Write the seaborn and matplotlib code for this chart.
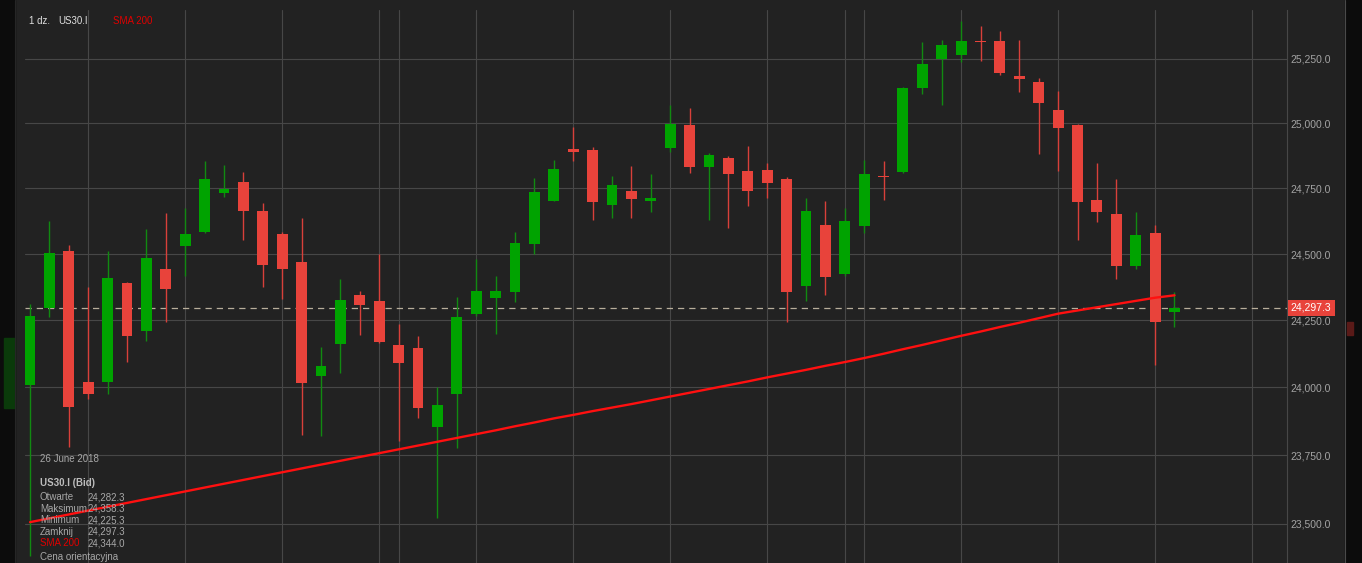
import numpy as np
import pandas as pd
import seaborn as sns
import matplotlib.pyplot as plt
from matplotlib.patches import Rectangle
from matplotlib.ticker import FixedLocator, FuncFormatter, NullLocator
import matplotlib.transforms as mtransforms

# daily candles US30.I, 4 April 2018 - 26 June 2018
opens = [24010, 24295, 24511, 24020, 24021, 24391, 24209, 24443, 24531, 24584,
         24734, 24774, 24665, 24575, 24470, 24042, 24162, 24346, 24324, 24159,
         24147, 23855, 23975, 24275, 24335, 24355, 24539, 24703, 24901, 24897,
         24685, 24740, 24703, 24905, 24995, 24833, 24866, 24816, 24820, 24786,
         24380, 24610, 24424, 24607, 24797, 24814, 25138, 25250, 25267, 25319,
         25319, 25183, 25160, 25051, 24993, 24705, 24652, 24455, 24578, 24282.3]
highs = [24313, 24625, 24536, 24377, 24511, 24396, 24594, 24657, 24676, 24856,
         24840, 24811, 24695, 24582, 24635, 24151, 24406, 24361, 24500, 24237,
         24192, 24001, 24339, 24481, 24417, 24585, 24791, 24860, 24984, 24909,
         24796, 24834, 24804, 25070, 25059, 24884, 24874, 24913, 24847, 24793,
         24713, 24700, 24675, 24858, 24855, 25142, 25318, 25323, 25399, 25380,
         25361, 25323, 25174, 25127, 24999, 24846, 24784, 24661, 24610, 24358.3]
lows = [23383, 24261, 23781, 23957, 23975, 24096, 24174, 24242, 24418, 24578,
        24715, 24553, 24377, 24329, 23825, 23821, 24054, 24194, 24165, 23803,
        23886, 23519, 23777, 24265, 24197, 24317, 24501, 24700, 24853, 24628,
        24636, 24636, 24661, 24890, 24808, 24629, 24600, 24683, 24714, 24245,
        24322, 24346, 24418, 24581, 24706, 24810, 25115, 25070, 25240, 25244,
        25188, 25123, 24883, 24816, 24553, 24623, 24404, 24445, 24083, 24225.3]
closes = [24267, 24504, 23927, 23976, 24410, 24190, 24485, 24366, 24575, 24785,
          24747, 24662, 24460, 24445, 24017, 24080, 24327, 24309, 24170, 24092,
          23922, 23934, 24264, 24361, 24361, 24541, 24736, 24826, 24891, 24696,
          24762, 24711, 24714, 24999, 24831, 24878, 24806, 24741, 24771, 24357,
          24663, 24414, 24625, 24805, 24792, 25137, 25230, 25304, 25319, 25315,
          25196, 25172, 25079, 24983, 24699, 24661, 24455, 24572, 24242, 24297.3]
sma200 = [23505, 23519, 23533, 23547, 23561, 23575, 23589, 23603, 23617, 23631,
          23645, 23659, 23673, 23687, 23701, 23715, 23729, 23743, 23757, 23771,
          23785, 23799, 23813, 23827, 23841, 23856, 23870, 23885, 23898, 23912,
          23925, 23938, 23952, 23966, 23980, 23994, 24008, 24022, 24037, 24051,
          24065, 24080, 24094, 24109, 24125, 24142, 24158, 24175, 24192, 24208,
          24225, 24241, 24258, 24275, 24287, 24299, 24311, 24323, 24335, 24344.0]
price_ticks = [23500, 23750, 24000, 24250, 24500, 24750, 25000, 25250]

tip_labels = ['Otwarte', 'Maksimum', 'Minimum', 'Zamknij', 'SMA 200']
tip_values = ['24,282.3', '24,358.3', '24,225.3', '24,297.3', '24,344.0']

BG = '#222222'
GRID = '#474747'
UP = '#00a300'
DOWN = '#e8433b'
UP_WICK = '#118a11'
DOWN_WICK = '#d8403a'

sns.set_theme(style='dark', rc={'axes.facecolor': BG, 'figure.facecolor': BG,
                                'grid.color': GRID, 'axes.edgecolor': GRID})
plt.rcParams['font.family'] = ['Liberation Sans', 'DejaVu Sans']

df = pd.DataFrame({'open': opens, 'high': highs, 'low': lows, 'close': closes, 'sma': sma200})
df['i'] = np.arange(len(df))
df['up'] = df['close'] >= df['open']

W, H = 1362, 563
fig = plt.figure(figsize=(W / 100, H / 100), dpi=100)
ax = fig.add_axes([25 / W, 0, 1262 / W, 553 / H])
ax.set_yscale('log')

# wicks
ax.vlines(df['i'], df['low'], df['high'],
          colors=np.where(df['up'], UP_WICK, DOWN_WICK), lw=1, zorder=2)
# bodies
body_lo = df[['open', 'close']].min(axis=1)
body_h = (df['close'] - df['open']).abs().clip(lower=4)
ax.bar(df['i'], body_h, bottom=body_lo, width=0.56,
       color=np.where(df['up'], UP, DOWN), lw=0, zorder=3)

sns.lineplot(data=df, x='i', y='sma', ax=ax, color='#ff1010', lw=1.7, zorder=4)

last = closes[-1]
ax.axhline(last, color='#b8ae9b', lw=0.9, dashes=(5, 4), zorder=1)

# grid: mondays and month starts
days = pd.bdate_range('2018-04-04', '2018-07-06')
xt = [k for k, d in enumerate(days)
      if d.weekday() == 0 or (k > 0 and d.month != days[k - 1].month)]
ax.set_xticks(xt)
ax.set_xlim(-0.26, 64.8)
ax.set_ylim(23357, 25442)
ax.yaxis.set_major_locator(FixedLocator(price_ticks))
ax.yaxis.set_minor_locator(NullLocator())
ax.yaxis.set_major_formatter(FuncFormatter(lambda v, p: f'{v:,.1f}'))
ax.yaxis.tick_right()
ax.tick_params(axis='y', length=0, pad=2.5, labelcolor='#a3a3a3', labelsize=7.5)
ax.tick_params(axis='x', length=0, labelbottom=False)
ax.grid(True, color=GRID, lw=0.8)
ax.set_xlabel('')
ax.set_ylabel('')
for s in ['top', 'left', 'bottom']:
    ax.spines[s].set_visible(False)
ax.spines['right'].set_color(GRID)
ax.spines['right'].set_linewidth(0.8)

# last price marker
tr = mtransforms.blended_transform_factory(ax.transAxes, ax.transData)
ax.text(1.003, last, f'{last:,.1f}', transform=tr, ha='left', va='center',
        color='white', fontsize=7.5, clip_on=False, zorder=6,
        bbox=dict(boxstyle='square,pad=0.3', fc=DOWN, ec='none'))

# side strips
fig.patches.append(Rectangle((0, 0), 15 / W, 1, transform=fig.transFigure,
                             color='#0c0c0c', zorder=0))
fig.patches.append(Rectangle((4 / W, 1 - 408 / H), 11 / W, 70 / H, transform=fig.transFigure,
                             color='#0a3a0a', zorder=0))
fig.patches.append(Rectangle((1345 / W, 0), 17 / W, 1, transform=fig.transFigure,
                             color='#0c0c0c', zorder=0))
fig.patches.append(Rectangle((1347 / W, 1 - 335 / H), 6 / W, 13 / H, transform=fig.transFigure,
                             color='#5a1a18', zorder=0))
fig.lines.append(plt.Line2D([1345 / W, 1345 / W], [0, 1], transform=fig.transFigure,
                            color='#4a4a4a', lw=0.8))
fig.lines.append(plt.Line2D([15 / W, 15 / W], [0, 1], transform=fig.transFigure,
                            color='#262626', lw=0.8))


def ftext(x, y, s, **kw):
    kw.setdefault('color', '#a8a8a8')
    kw.setdefault('fontsize', 7)
    fig.text(x / W, 1 - y / H, s, va='center', ha='left', zorder=10, **kw)


# header
ftext(29, 21.5, '1 dz.', color='#e0e0e0')
ftext(58, 21.5, 'US30.I', color='#e0e0e0')
ftext(113, 21.5, 'SMA 200', color='#e00000')

# data window
ftext(40, 459, '26 June 2018')
ftext(40, 483, 'US30.I (Bid)', color='#bdbdbd', fontweight='bold')
for k, (lab, val) in enumerate(zip(tip_labels, tip_values)):
    y = 497 + k * 11.6
    ftext(40, y, lab, color='#e00000' if lab == 'SMA 200' else '#a8a8a8')
    ftext(87.5, y, val)
ftext(40, 556.5, 'Cena orientacyjna')

fig.savefig('out.png', dpi=100, facecolor=BG)
